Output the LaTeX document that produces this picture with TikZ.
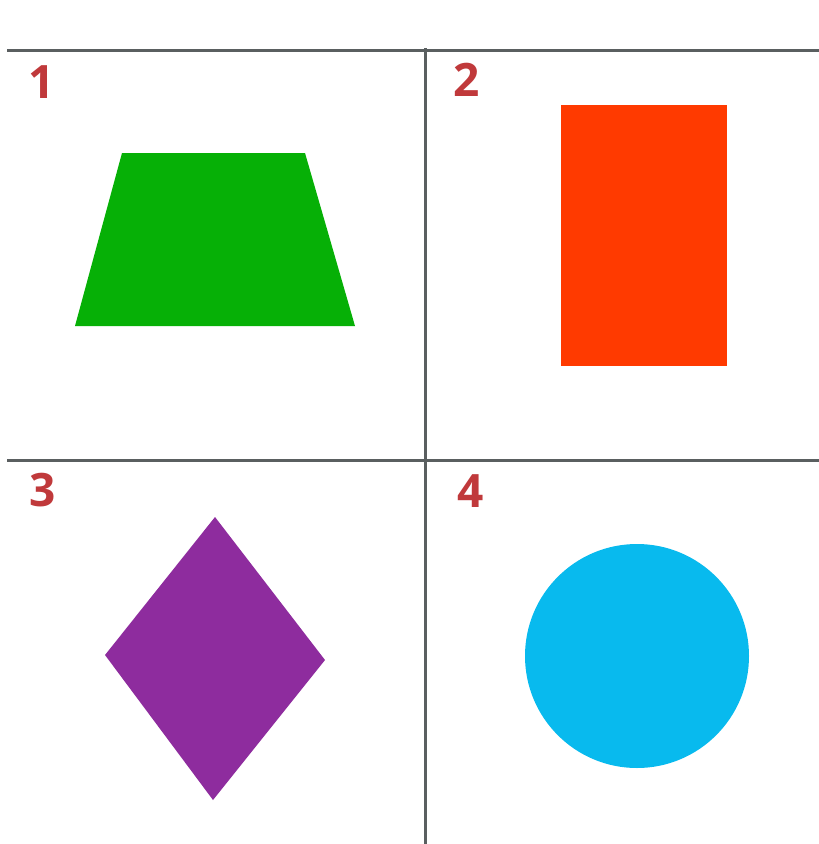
\documentclass[tikz,border=0pt]{standalone}
\usepackage{fontspec}
\setmainfont{Open Sans}
\definecolor{gridc}{HTML}{5A5F60}
\definecolor{labc}{HTML}{C0393B}
\definecolor{trapc}{HTML}{06B006}
\definecolor{rectc}{HTML}{FF3A00}
\definecolor{diamc}{HTML}{8E2C9E}
\definecolor{circc}{HTML}{08BAEE}
\tikzset{
  gridline/.style={draw=gridc, line width=3pt},
  numlab/.style={text=labc, font=\bfseries\fontsize{46}{46}\selectfont, inner sep=0pt, anchor=center},
}
\begin{document}
\begin{tikzpicture}[x=1pt,y=-1pt]
\useasboundingbox[fill=white] (0,0) rectangle (819,844);
% grid
\coordinate (tl) at (7,50);
\coordinate (tr) at (819,50);
\coordinate (ml) at (7,460);
\coordinate (mr) at (819,460);
\coordinate (vt) at (425,48);
\coordinate (vb) at (425,844);
\draw[gridline] (tl) -- (tr);
\draw[gridline] (ml) -- (mr);
\draw[gridline] (vt) -- (vb);
% labels
\node[numlab] (n1) at (42,82) {1};
\node[numlab] (n2) at (467,80) {2};
\node[numlab] (n3) at (43,490) {3};
\node[numlab] (n4) at (471,491) {4};
% shapes
\fill[trapc] (122,153) -- (305,153) -- (355,326) -- (75,326) -- cycle;
\fill[rectc] (561,105) rectangle (727,366);
\fill[diamc] (215,517) -- (325,660) -- (213,800) -- (105,655) -- cycle;
\fill[circc] (637,656) circle (112);
\end{tikzpicture}
\end{document}
